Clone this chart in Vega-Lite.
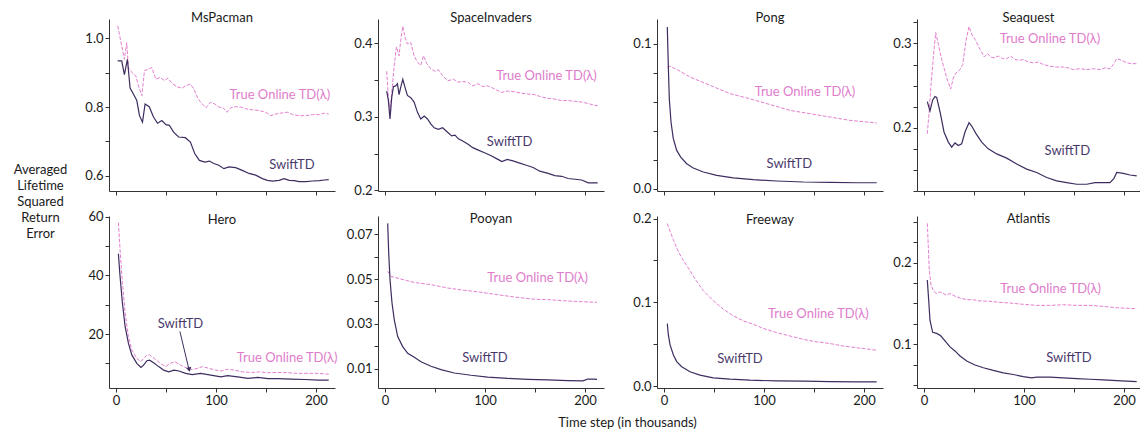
{
  "$schema": "https://vega.github.io/schema/vega-lite/v6.json",
  "background": "white",
  "padding": {"left": 13, "top": 12, "right": 0, "bottom": 0},
  "config": {
    "view": {"stroke": null},
    "font": "Lato",
    "axis": {"grid": false, "domainColor": "#333333", "tickColor": "#333333", "labelColor": "#1a1a1a", "labelFontSize": 13, "tickSize": 4, "labelPadding": 2, "domainWidth": 1, "tickWidth": 1},
    "title": {"fontSize": 13, "fontWeight": "normal", "color": "#1a1a1a"}
  },
  "datasets": {
    "curves": [
      {"game":"MsPacman","method":"SwiftTD","t":1.7,"v":0.934},{"game":"MsPacman","method":"SwiftTD","t":5.7,"v":0.934},{"game":"MsPacman","method":"SwiftTD","t":8.4,"v":0.894},{"game":"MsPacman","method":"SwiftTD","t":11.4,"v":0.939},{"game":"MsPacman","method":"SwiftTD","t":14.1,"v":0.855},{"game":"MsPacman","method":"SwiftTD","t":17.4,"v":0.838},{"game":"MsPacman","method":"SwiftTD","t":20.8,"v":0.819},{"game":"MsPacman","method":"SwiftTD","t":23.5,"v":0.775},{"game":"MsPacman","method":"SwiftTD","t":26.5,"v":0.756},{"game":"MsPacman","method":"SwiftTD","t":29.1,"v":0.809},{"game":"MsPacman","method":"SwiftTD","t":33.2,"v":0.801},{"game":"MsPacman","method":"SwiftTD","t":37.5,"v":0.771},{"game":"MsPacman","method":"SwiftTD","t":41.5,"v":0.753},{"game":"MsPacman","method":"SwiftTD","t":45.9,"v":0.761},{"game":"MsPacman","method":"SwiftTD","t":49.9,"v":0.749},{"game":"MsPacman","method":"SwiftTD","t":53.3,"v":0.747},{"game":"MsPacman","method":"SwiftTD","t":57.6,"v":0.727},{"game":"MsPacman","method":"SwiftTD","t":62.6,"v":0.713},{"game":"MsPacman","method":"SwiftTD","t":69.3,"v":0.711},{"game":"MsPacman","method":"SwiftTD","t":74.4,"v":0.698},{"game":"MsPacman","method":"SwiftTD","t":78.7,"v":0.665},{"game":"MsPacman","method":"SwiftTD","t":83.4,"v":0.645},{"game":"MsPacman","method":"SwiftTD","t":88.8,"v":0.64},{"game":"MsPacman","method":"SwiftTD","t":93.5,"v":0.643},{"game":"MsPacman","method":"SwiftTD","t":97.8,"v":0.636},{"game":"MsPacman","method":"SwiftTD","t":102.8,"v":0.631},{"game":"MsPacman","method":"SwiftTD","t":107.9,"v":0.621},{"game":"MsPacman","method":"SwiftTD","t":112.9,"v":0.626},{"game":"MsPacman","method":"SwiftTD","t":119.6,"v":0.624},{"game":"MsPacman","method":"SwiftTD","t":126.3,"v":0.616},{"game":"MsPacman","method":"SwiftTD","t":133,"v":0.607},{"game":"MsPacman","method":"SwiftTD","t":139.7,"v":0.602},{"game":"MsPacman","method":"SwiftTD","t":146.4,"v":0.592},{"game":"MsPacman","method":"SwiftTD","t":151.4,"v":0.587},{"game":"MsPacman","method":"SwiftTD","t":156.4,"v":0.585},{"game":"MsPacman","method":"SwiftTD","t":163.1,"v":0.587},{"game":"MsPacman","method":"SwiftTD","t":168.2,"v":0.592},{"game":"MsPacman","method":"SwiftTD","t":173.2,"v":0.587},{"game":"MsPacman","method":"SwiftTD","t":178.2,"v":0.586},{"game":"MsPacman","method":"SwiftTD","t":183.2,"v":0.583},{"game":"MsPacman","method":"SwiftTD","t":190,"v":0.583},{"game":"MsPacman","method":"SwiftTD","t":196.6,"v":0.585},{"game":"MsPacman","method":"SwiftTD","t":203.4,"v":0.586},{"game":"MsPacman","method":"SwiftTD","t":208.4,"v":0.588},{"game":"MsPacman","method":"SwiftTD","t":212.7,"v":0.589},
      {"game":"MsPacman","method":"True Online TD(λ)","t":1.7,"v":1.036},{"game":"MsPacman","method":"True Online TD(λ)","t":5.7,"v":0.978},{"game":"MsPacman","method":"True Online TD(λ)","t":8.4,"v":0.939},{"game":"MsPacman","method":"True Online TD(λ)","t":10.7,"v":0.987},{"game":"MsPacman","method":"True Online TD(λ)","t":12.4,"v":0.915},{"game":"MsPacman","method":"True Online TD(λ)","t":15.7,"v":0.901},{"game":"MsPacman","method":"True Online TD(λ)","t":19.8,"v":0.891},{"game":"MsPacman","method":"True Online TD(λ)","t":22.4,"v":0.862},{"game":"MsPacman","method":"True Online TD(λ)","t":25.8,"v":0.833},{"game":"MsPacman","method":"True Online TD(λ)","t":28.5,"v":0.906},{"game":"MsPacman","method":"True Online TD(λ)","t":32.5,"v":0.91},{"game":"MsPacman","method":"True Online TD(λ)","t":35.8,"v":0.915},{"game":"MsPacman","method":"True Online TD(λ)","t":39.9,"v":0.881},{"game":"MsPacman","method":"True Online TD(λ)","t":44.2,"v":0.886},{"game":"MsPacman","method":"True Online TD(λ)","t":48.2,"v":0.877},{"game":"MsPacman","method":"True Online TD(λ)","t":51.9,"v":0.884},{"game":"MsPacman","method":"True Online TD(λ)","t":56,"v":0.869},{"game":"MsPacman","method":"True Online TD(λ)","t":61,"v":0.859},{"game":"MsPacman","method":"True Online TD(λ)","t":66,"v":0.855},{"game":"MsPacman","method":"True Online TD(λ)","t":70,"v":0.862},{"game":"MsPacman","method":"True Online TD(λ)","t":74.4,"v":0.867},{"game":"MsPacman","method":"True Online TD(λ)","t":77.7,"v":0.853},{"game":"MsPacman","method":"True Online TD(λ)","t":82.1,"v":0.824},{"game":"MsPacman","method":"True Online TD(λ)","t":86.1,"v":0.809},{"game":"MsPacman","method":"True Online TD(λ)","t":90.1,"v":0.798},{"game":"MsPacman","method":"True Online TD(λ)","t":94.5,"v":0.814},{"game":"MsPacman","method":"True Online TD(λ)","t":98.8,"v":0.809},{"game":"MsPacman","method":"True Online TD(λ)","t":102.8,"v":0.8},{"game":"MsPacman","method":"True Online TD(λ)","t":106.9,"v":0.798},{"game":"MsPacman","method":"True Online TD(λ)","t":111.2,"v":0.785},{"game":"MsPacman","method":"True Online TD(λ)","t":114.6,"v":0.798},{"game":"MsPacman","method":"True Online TD(λ)","t":119.6,"v":0.801},{"game":"MsPacman","method":"True Online TD(λ)","t":124.6,"v":0.8},{"game":"MsPacman","method":"True Online TD(λ)","t":129.6,"v":0.795},{"game":"MsPacman","method":"True Online TD(λ)","t":136.3,"v":0.792},{"game":"MsPacman","method":"True Online TD(λ)","t":143,"v":0.79},{"game":"MsPacman","method":"True Online TD(λ)","t":149.7,"v":0.785},{"game":"MsPacman","method":"True Online TD(λ)","t":154.8,"v":0.775},{"game":"MsPacman","method":"True Online TD(λ)","t":159.8,"v":0.78},{"game":"MsPacman","method":"True Online TD(λ)","t":166.5,"v":0.783},{"game":"MsPacman","method":"True Online TD(λ)","t":171.5,"v":0.785},{"game":"MsPacman","method":"True Online TD(λ)","t":176.6,"v":0.778},{"game":"MsPacman","method":"True Online TD(λ)","t":183.2,"v":0.775},{"game":"MsPacman","method":"True Online TD(λ)","t":190,"v":0.775},{"game":"MsPacman","method":"True Online TD(λ)","t":196.6,"v":0.778},{"game":"MsPacman","method":"True Online TD(λ)","t":203.4,"v":0.778},{"game":"MsPacman","method":"True Online TD(λ)","t":208.4,"v":0.782},{"game":"MsPacman","method":"True Online TD(λ)","t":212.7,"v":0.78},

      {"game":"SpaceInvaders","method":"SwiftTD","t":1.7,"v":0.335},{"game":"SpaceInvaders","method":"SwiftTD","t":3.4,"v":0.322},{"game":"SpaceInvaders","method":"SwiftTD","t":5,"v":0.297},{"game":"SpaceInvaders","method":"SwiftTD","t":6.7,"v":0.326},{"game":"SpaceInvaders","method":"SwiftTD","t":8.4,"v":0.341},{"game":"SpaceInvaders","method":"SwiftTD","t":10.7,"v":0.342},{"game":"SpaceInvaders","method":"SwiftTD","t":12.4,"v":0.345},{"game":"SpaceInvaders","method":"SwiftTD","t":14.1,"v":0.33},{"game":"SpaceInvaders","method":"SwiftTD","t":15.7,"v":0.34},{"game":"SpaceInvaders","method":"SwiftTD","t":17.8,"v":0.351},{"game":"SpaceInvaders","method":"SwiftTD","t":19.8,"v":0.341},{"game":"SpaceInvaders","method":"SwiftTD","t":22.4,"v":0.329},{"game":"SpaceInvaders","method":"SwiftTD","t":25.8,"v":0.326},{"game":"SpaceInvaders","method":"SwiftTD","t":29.1,"v":0.32},{"game":"SpaceInvaders","method":"SwiftTD","t":32.5,"v":0.306},{"game":"SpaceInvaders","method":"SwiftTD","t":35.8,"v":0.297},{"game":"SpaceInvaders","method":"SwiftTD","t":39.2,"v":0.301},{"game":"SpaceInvaders","method":"SwiftTD","t":42.5,"v":0.297},{"game":"SpaceInvaders","method":"SwiftTD","t":45.9,"v":0.29},{"game":"SpaceInvaders","method":"SwiftTD","t":49.2,"v":0.285},{"game":"SpaceInvaders","method":"SwiftTD","t":53.3,"v":0.283},{"game":"SpaceInvaders","method":"SwiftTD","t":57.6,"v":0.285},{"game":"SpaceInvaders","method":"SwiftTD","t":62.6,"v":0.279},{"game":"SpaceInvaders","method":"SwiftTD","t":66.7,"v":0.274},{"game":"SpaceInvaders","method":"SwiftTD","t":70,"v":0.275},{"game":"SpaceInvaders","method":"SwiftTD","t":73.4,"v":0.27},{"game":"SpaceInvaders","method":"SwiftTD","t":77.7,"v":0.267},{"game":"SpaceInvaders","method":"SwiftTD","t":82.7,"v":0.263},{"game":"SpaceInvaders","method":"SwiftTD","t":87.8,"v":0.258},{"game":"SpaceInvaders","method":"SwiftTD","t":92.8,"v":0.255},{"game":"SpaceInvaders","method":"SwiftTD","t":99.5,"v":0.251},{"game":"SpaceInvaders","method":"SwiftTD","t":106.2,"v":0.247},{"game":"SpaceInvaders","method":"SwiftTD","t":112.9,"v":0.242},{"game":"SpaceInvaders","method":"SwiftTD","t":116.9,"v":0.239},{"game":"SpaceInvaders","method":"SwiftTD","t":122.3,"v":0.242},{"game":"SpaceInvaders","method":"SwiftTD","t":128,"v":0.24},{"game":"SpaceInvaders","method":"SwiftTD","t":134.7,"v":0.237},{"game":"SpaceInvaders","method":"SwiftTD","t":141.4,"v":0.234},{"game":"SpaceInvaders","method":"SwiftTD","t":148.1,"v":0.231},{"game":"SpaceInvaders","method":"SwiftTD","t":154.8,"v":0.226},{"game":"SpaceInvaders","method":"SwiftTD","t":163.1,"v":0.223},{"game":"SpaceInvaders","method":"SwiftTD","t":169.8,"v":0.22},{"game":"SpaceInvaders","method":"SwiftTD","t":176.6,"v":0.219},{"game":"SpaceInvaders","method":"SwiftTD","t":183.2,"v":0.216},{"game":"SpaceInvaders","method":"SwiftTD","t":190,"v":0.215},{"game":"SpaceInvaders","method":"SwiftTD","t":196.6,"v":0.214},{"game":"SpaceInvaders","method":"SwiftTD","t":203.4,"v":0.21},{"game":"SpaceInvaders","method":"SwiftTD","t":208.4,"v":0.21},{"game":"SpaceInvaders","method":"SwiftTD","t":212.7,"v":0.21},
      {"game":"SpaceInvaders","method":"True Online TD(λ)","t":1.7,"v":0.362},{"game":"SpaceInvaders","method":"True Online TD(λ)","t":3.4,"v":0.326},{"game":"SpaceInvaders","method":"True Online TD(λ)","t":5,"v":0.308},{"game":"SpaceInvaders","method":"True Online TD(λ)","t":7.4,"v":0.342},{"game":"SpaceInvaders","method":"True Online TD(λ)","t":9,"v":0.367},{"game":"SpaceInvaders","method":"True Online TD(λ)","t":11.4,"v":0.395},{"game":"SpaceInvaders","method":"True Online TD(λ)","t":14.1,"v":0.383},{"game":"SpaceInvaders","method":"True Online TD(λ)","t":15.7,"v":0.404},{"game":"SpaceInvaders","method":"True Online TD(λ)","t":17.8,"v":0.423},{"game":"SpaceInvaders","method":"True Online TD(λ)","t":20.1,"v":0.408},{"game":"SpaceInvaders","method":"True Online TD(λ)","t":22.4,"v":0.399},{"game":"SpaceInvaders","method":"True Online TD(λ)","t":25.8,"v":0.401},{"game":"SpaceInvaders","method":"True Online TD(λ)","t":29.1,"v":0.383},{"game":"SpaceInvaders","method":"True Online TD(λ)","t":32.5,"v":0.374},{"game":"SpaceInvaders","method":"True Online TD(λ)","t":35.8,"v":0.37},{"game":"SpaceInvaders","method":"True Online TD(λ)","t":38.5,"v":0.383},{"game":"SpaceInvaders","method":"True Online TD(λ)","t":41.9,"v":0.372},{"game":"SpaceInvaders","method":"True Online TD(λ)","t":45.9,"v":0.365},{"game":"SpaceInvaders","method":"True Online TD(λ)","t":49.9,"v":0.362},{"game":"SpaceInvaders","method":"True Online TD(λ)","t":53.3,"v":0.364},{"game":"SpaceInvaders","method":"True Online TD(λ)","t":57.6,"v":0.356},{"game":"SpaceInvaders","method":"True Online TD(λ)","t":62.6,"v":0.349},{"game":"SpaceInvaders","method":"True Online TD(λ)","t":68.7,"v":0.351},{"game":"SpaceInvaders","method":"True Online TD(λ)","t":72.7,"v":0.347},{"game":"SpaceInvaders","method":"True Online TD(λ)","t":77.7,"v":0.348},{"game":"SpaceInvaders","method":"True Online TD(λ)","t":82.7,"v":0.347},{"game":"SpaceInvaders","method":"True Online TD(λ)","t":87.8,"v":0.342},{"game":"SpaceInvaders","method":"True Online TD(λ)","t":92.8,"v":0.345},{"game":"SpaceInvaders","method":"True Online TD(λ)","t":97.8,"v":0.341},{"game":"SpaceInvaders","method":"True Online TD(λ)","t":102.8,"v":0.342},{"game":"SpaceInvaders","method":"True Online TD(λ)","t":109.5,"v":0.338},{"game":"SpaceInvaders","method":"True Online TD(λ)","t":116.2,"v":0.333},{"game":"SpaceInvaders","method":"True Online TD(λ)","t":122.3,"v":0.335},{"game":"SpaceInvaders","method":"True Online TD(λ)","t":129.6,"v":0.334},{"game":"SpaceInvaders","method":"True Online TD(λ)","t":136.3,"v":0.332},{"game":"SpaceInvaders","method":"True Online TD(λ)","t":143,"v":0.331},{"game":"SpaceInvaders","method":"True Online TD(λ)","t":149.7,"v":0.33},{"game":"SpaceInvaders","method":"True Online TD(λ)","t":156.4,"v":0.327},{"game":"SpaceInvaders","method":"True Online TD(λ)","t":163.1,"v":0.325},{"game":"SpaceInvaders","method":"True Online TD(λ)","t":169.8,"v":0.324},{"game":"SpaceInvaders","method":"True Online TD(λ)","t":176.6,"v":0.322},{"game":"SpaceInvaders","method":"True Online TD(λ)","t":183.2,"v":0.322},{"game":"SpaceInvaders","method":"True Online TD(λ)","t":190,"v":0.321},{"game":"SpaceInvaders","method":"True Online TD(λ)","t":196.6,"v":0.32},{"game":"SpaceInvaders","method":"True Online TD(λ)","t":203.4,"v":0.318},{"game":"SpaceInvaders","method":"True Online TD(λ)","t":208.4,"v":0.316},{"game":"SpaceInvaders","method":"True Online TD(λ)","t":212.7,"v":0.315},

      {"game":"Pong","method":"SwiftTD","t":3.3,"v":0.1115},{"game":"Pong","method":"SwiftTD","t":4.3,"v":0.085},{"game":"Pong","method":"SwiftTD","t":5.3,"v":0.062},{"game":"Pong","method":"SwiftTD","t":7,"v":0.046},{"game":"Pong","method":"SwiftTD","t":9.3,"v":0.0345},{"game":"Pong","method":"SwiftTD","t":12.7,"v":0.0264},{"game":"Pong","method":"SwiftTD","t":16.7,"v":0.0218},{"game":"Pong","method":"SwiftTD","t":22.7,"v":0.0172},{"game":"Pong","method":"SwiftTD","t":29.3,"v":0.0143},{"game":"Pong","method":"SwiftTD","t":39.3,"v":0.0115},{"game":"Pong","method":"SwiftTD","t":52.7,"v":0.0092},{"game":"Pong","method":"SwiftTD","t":69.3,"v":0.0074},{"game":"Pong","method":"SwiftTD","t":89.3,"v":0.0062},{"game":"Pong","method":"SwiftTD","t":112.7,"v":0.0053},{"game":"Pong","method":"SwiftTD","t":139.3,"v":0.0046},{"game":"Pong","method":"SwiftTD","t":166,"v":0.0044},{"game":"Pong","method":"SwiftTD","t":192.7,"v":0.0041},{"game":"Pong","method":"SwiftTD","t":212.7,"v":0.0041},
      {"game":"Pong","method":"True Online TD(λ)","t":3.3,"v":0.0839},{"game":"Pong","method":"True Online TD(λ)","t":6,"v":0.0844},{"game":"Pong","method":"True Online TD(λ)","t":12.7,"v":0.0823},{"game":"Pong","method":"True Online TD(λ)","t":26,"v":0.077},{"game":"Pong","method":"True Online TD(λ)","t":46,"v":0.0713},{"game":"Pong","method":"True Online TD(λ)","t":66,"v":0.0655},{"game":"Pong","method":"True Online TD(λ)","t":86,"v":0.062},{"game":"Pong","method":"True Online TD(λ)","t":106,"v":0.058},{"game":"Pong","method":"True Online TD(λ)","t":126,"v":0.054},{"game":"Pong","method":"True Online TD(λ)","t":146,"v":0.0517},{"game":"Pong","method":"True Online TD(λ)","t":166,"v":0.0494},{"game":"Pong","method":"True Online TD(λ)","t":186,"v":0.0471},{"game":"Pong","method":"True Online TD(λ)","t":212.7,"v":0.0453},

      {"game":"Seaquest","method":"SwiftTD","t":3.3,"v":0.231},{"game":"Seaquest","method":"SwiftTD","t":6,"v":0.22},{"game":"Seaquest","method":"SwiftTD","t":8.7,"v":0.233},{"game":"Seaquest","method":"SwiftTD","t":11,"v":0.237},{"game":"Seaquest","method":"SwiftTD","t":12.7,"v":0.236},{"game":"Seaquest","method":"SwiftTD","t":16,"v":0.219},{"game":"Seaquest","method":"SwiftTD","t":20,"v":0.195},{"game":"Seaquest","method":"SwiftTD","t":24.3,"v":0.183},{"game":"Seaquest","method":"SwiftTD","t":27.7,"v":0.177},{"game":"Seaquest","method":"SwiftTD","t":31,"v":0.182},{"game":"Seaquest","method":"SwiftTD","t":34.3,"v":0.179},{"game":"Seaquest","method":"SwiftTD","t":37.7,"v":0.181},{"game":"Seaquest","method":"SwiftTD","t":41,"v":0.195},{"game":"Seaquest","method":"SwiftTD","t":45,"v":0.206},{"game":"Seaquest","method":"SwiftTD","t":47.7,"v":0.202},{"game":"Seaquest","method":"SwiftTD","t":52,"v":0.193},{"game":"Seaquest","method":"SwiftTD","t":57.7,"v":0.183},{"game":"Seaquest","method":"SwiftTD","t":64.3,"v":0.175},{"game":"Seaquest","method":"SwiftTD","t":72.7,"v":0.169},{"game":"Seaquest","method":"SwiftTD","t":82.7,"v":0.164},{"game":"Seaquest","method":"SwiftTD","t":92.7,"v":0.157},{"game":"Seaquest","method":"SwiftTD","t":102.7,"v":0.151},{"game":"Seaquest","method":"SwiftTD","t":112.7,"v":0.147},{"game":"Seaquest","method":"SwiftTD","t":122.7,"v":0.141},{"game":"Seaquest","method":"SwiftTD","t":132.7,"v":0.137},{"game":"Seaquest","method":"SwiftTD","t":142.7,"v":0.135},{"game":"Seaquest","method":"SwiftTD","t":152.7,"v":0.133},{"game":"Seaquest","method":"SwiftTD","t":162.7,"v":0.133},{"game":"Seaquest","method":"SwiftTD","t":171,"v":0.135},{"game":"Seaquest","method":"SwiftTD","t":179.3,"v":0.135},{"game":"Seaquest","method":"SwiftTD","t":186,"v":0.135},{"game":"Seaquest","method":"SwiftTD","t":190,"v":0.14},{"game":"Seaquest","method":"SwiftTD","t":192.7,"v":0.147},{"game":"Seaquest","method":"SwiftTD","t":199.3,"v":0.146},{"game":"Seaquest","method":"SwiftTD","t":206,"v":0.144},{"game":"Seaquest","method":"SwiftTD","t":212.7,"v":0.143},
      {"game":"Seaquest","method":"True Online TD(λ)","t":3.3,"v":0.193},{"game":"Seaquest","method":"True Online TD(λ)","t":5.3,"v":0.221},{"game":"Seaquest","method":"True Online TD(λ)","t":7,"v":0.251},{"game":"Seaquest","method":"True Online TD(λ)","t":9.3,"v":0.283},{"game":"Seaquest","method":"True Online TD(λ)","t":11.7,"v":0.313},{"game":"Seaquest","method":"True Online TD(λ)","t":14.3,"v":0.299},{"game":"Seaquest","method":"True Online TD(λ)","t":17.7,"v":0.281},{"game":"Seaquest","method":"True Online TD(λ)","t":22.7,"v":0.259},{"game":"Seaquest","method":"True Online TD(λ)","t":26.7,"v":0.246},{"game":"Seaquest","method":"True Online TD(λ)","t":29.3,"v":0.259},{"game":"Seaquest","method":"True Online TD(λ)","t":32,"v":0.265},{"game":"Seaquest","method":"True Online TD(λ)","t":36,"v":0.269},{"game":"Seaquest","method":"True Online TD(λ)","t":38.7,"v":0.275},{"game":"Seaquest","method":"True Online TD(λ)","t":42,"v":0.303},{"game":"Seaquest","method":"True Online TD(λ)","t":45,"v":0.32},{"game":"Seaquest","method":"True Online TD(λ)","t":47.7,"v":0.311},{"game":"Seaquest","method":"True Online TD(λ)","t":52,"v":0.303},{"game":"Seaquest","method":"True Online TD(λ)","t":56,"v":0.293},{"game":"Seaquest","method":"True Online TD(λ)","t":60.3,"v":0.284},{"game":"Seaquest","method":"True Online TD(λ)","t":63.3,"v":0.288},{"game":"Seaquest","method":"True Online TD(λ)","t":66.7,"v":0.284},{"game":"Seaquest","method":"True Online TD(λ)","t":70,"v":0.283},{"game":"Seaquest","method":"True Online TD(λ)","t":74.3,"v":0.285},{"game":"Seaquest","method":"True Online TD(λ)","t":78.7,"v":0.282},{"game":"Seaquest","method":"True Online TD(λ)","t":82.7,"v":0.282},{"game":"Seaquest","method":"True Online TD(λ)","t":86.7,"v":0.285},{"game":"Seaquest","method":"True Online TD(λ)","t":91,"v":0.281},{"game":"Seaquest","method":"True Online TD(λ)","t":95.3,"v":0.28},{"game":"Seaquest","method":"True Online TD(λ)","t":99.3,"v":0.281},{"game":"Seaquest","method":"True Online TD(λ)","t":104.3,"v":0.278},{"game":"Seaquest","method":"True Online TD(λ)","t":109.3,"v":0.277},{"game":"Seaquest","method":"True Online TD(λ)","t":114.3,"v":0.278},{"game":"Seaquest","method":"True Online TD(λ)","t":119.3,"v":0.275},{"game":"Seaquest","method":"True Online TD(λ)","t":126,"v":0.273},{"game":"Seaquest","method":"True Online TD(λ)","t":132.7,"v":0.272},{"game":"Seaquest","method":"True Online TD(λ)","t":139.3,"v":0.272},{"game":"Seaquest","method":"True Online TD(λ)","t":144.3,"v":0.271},{"game":"Seaquest","method":"True Online TD(λ)","t":149.3,"v":0.269},{"game":"Seaquest","method":"True Online TD(λ)","t":156,"v":0.27},{"game":"Seaquest","method":"True Online TD(λ)","t":162.7,"v":0.269},{"game":"Seaquest","method":"True Online TD(λ)","t":169.3,"v":0.27},{"game":"Seaquest","method":"True Online TD(λ)","t":176,"v":0.269},{"game":"Seaquest","method":"True Online TD(λ)","t":181,"v":0.271},{"game":"Seaquest","method":"True Online TD(λ)","t":186,"v":0.27},{"game":"Seaquest","method":"True Online TD(λ)","t":189.3,"v":0.275},{"game":"Seaquest","method":"True Online TD(λ)","t":192.7,"v":0.282},{"game":"Seaquest","method":"True Online TD(λ)","t":197.7,"v":0.28},{"game":"Seaquest","method":"True Online TD(λ)","t":202.7,"v":0.277},{"game":"Seaquest","method":"True Online TD(λ)","t":207.7,"v":0.276},{"game":"Seaquest","method":"True Online TD(λ)","t":212.7,"v":0.276},

      {"game":"Hero","method":"SwiftTD","t":2.4,"v":47.4},{"game":"Hero","method":"SwiftTD","t":4,"v":39.9},{"game":"Hero","method":"SwiftTD","t":6.4,"v":30.7},{"game":"Hero","method":"SwiftTD","t":9.1,"v":22.6},{"game":"Hero","method":"SwiftTD","t":12.4,"v":16.9},{"game":"Hero","method":"SwiftTD","t":15.8,"v":12.9},{"game":"Hero","method":"SwiftTD","t":20.8,"v":10},{"game":"Hero","method":"SwiftTD","t":24.9,"v":8.6},{"game":"Hero","method":"SwiftTD","t":27.6,"v":9.4},{"game":"Hero","method":"SwiftTD","t":30.9,"v":10.9},{"game":"Hero","method":"SwiftTD","t":33.6,"v":11.1},{"game":"Hero","method":"SwiftTD","t":37.6,"v":10.2},{"game":"Hero","method":"SwiftTD","t":42.7,"v":8.9},{"game":"Hero","method":"SwiftTD","t":47.7,"v":7.7},{"game":"Hero","method":"SwiftTD","t":52.8,"v":7.1},{"game":"Hero","method":"SwiftTD","t":57.8,"v":7.7},{"game":"Hero","method":"SwiftTD","t":62.9,"v":7.4},{"game":"Hero","method":"SwiftTD","t":69.6,"v":6.6},{"game":"Hero","method":"SwiftTD","t":76.3,"v":6.2},{"game":"Hero","method":"SwiftTD","t":84.7,"v":6.6},{"game":"Hero","method":"SwiftTD","t":94.8,"v":6},{"game":"Hero","method":"SwiftTD","t":104.9,"v":5.4},{"game":"Hero","method":"SwiftTD","t":111.6,"v":5.8},{"game":"Hero","method":"SwiftTD","t":121.7,"v":5.4},{"game":"Hero","method":"SwiftTD","t":131.8,"v":4.9},{"game":"Hero","method":"SwiftTD","t":141.8,"v":5.2},{"game":"Hero","method":"SwiftTD","t":151.9,"v":4.8},{"game":"Hero","method":"SwiftTD","t":162,"v":4.8},{"game":"Hero","method":"SwiftTD","t":175.5,"v":4.6},{"game":"Hero","method":"SwiftTD","t":188.9,"v":4.5},{"game":"Hero","method":"SwiftTD","t":202.4,"v":4.3},{"game":"Hero","method":"SwiftTD","t":212.7,"v":4.3},
      {"game":"Hero","method":"True Online TD(λ)","t":2.4,"v":58},{"game":"Hero","method":"True Online TD(λ)","t":4,"v":49.1},{"game":"Hero","method":"True Online TD(λ)","t":6.4,"v":37.6},{"game":"Hero","method":"True Online TD(λ)","t":9.1,"v":27.2},{"game":"Hero","method":"True Online TD(λ)","t":12.4,"v":19.2},{"game":"Hero","method":"True Online TD(λ)","t":15.8,"v":14.6},{"game":"Hero","method":"True Online TD(λ)","t":20.8,"v":11.7},{"game":"Hero","method":"True Online TD(λ)","t":24.9,"v":10.6},{"game":"Hero","method":"True Online TD(λ)","t":27.6,"v":11.7},{"game":"Hero","method":"True Online TD(λ)","t":30.9,"v":12.9},{"game":"Hero","method":"True Online TD(λ)","t":33.6,"v":12.9},{"game":"Hero","method":"True Online TD(λ)","t":38.3,"v":11.7},{"game":"Hero","method":"True Online TD(λ)","t":43.7,"v":10.2},{"game":"Hero","method":"True Online TD(λ)","t":49.4,"v":8.9},{"game":"Hero","method":"True Online TD(λ)","t":54.5,"v":10},{"game":"Hero","method":"True Online TD(λ)","t":58.8,"v":10.6},{"game":"Hero","method":"True Online TD(λ)","t":64.5,"v":9.4},{"game":"Hero","method":"True Online TD(λ)","t":71.3,"v":8.3},{"game":"Hero","method":"True Online TD(λ)","t":76.3,"v":7.9},{"game":"Hero","method":"True Online TD(λ)","t":81.3,"v":8.3},{"game":"Hero","method":"True Online TD(λ)","t":86.4,"v":8.9},{"game":"Hero","method":"True Online TD(λ)","t":93.1,"v":8.3},{"game":"Hero","method":"True Online TD(λ)","t":99.8,"v":7.7},{"game":"Hero","method":"True Online TD(λ)","t":104.9,"v":7.4},{"game":"Hero","method":"True Online TD(λ)","t":111.6,"v":8},{"game":"Hero","method":"True Online TD(λ)","t":118.3,"v":7.7},{"game":"Hero","method":"True Online TD(λ)","t":126.7,"v":7.1},{"game":"Hero","method":"True Online TD(λ)","t":135.1,"v":6.9},{"game":"Hero","method":"True Online TD(λ)","t":143.5,"v":7.1},{"game":"Hero","method":"True Online TD(λ)","t":151.9,"v":6.8},{"game":"Hero","method":"True Online TD(λ)","t":162,"v":6.9},{"game":"Hero","method":"True Online TD(λ)","t":172.1,"v":6.8},{"game":"Hero","method":"True Online TD(λ)","t":182.2,"v":6.6},{"game":"Hero","method":"True Online TD(λ)","t":192.3,"v":6.6},{"game":"Hero","method":"True Online TD(λ)","t":202.4,"v":6.6},{"game":"Hero","method":"True Online TD(λ)","t":212.7,"v":6.3},

      {"game":"Pooyan","method":"SwiftTD","t":2.7,"v":0.0749},{"game":"Pooyan","method":"SwiftTD","t":3.7,"v":0.0618},{"game":"Pooyan","method":"SwiftTD","t":5,"v":0.0498},{"game":"Pooyan","method":"SwiftTD","t":7,"v":0.0393},{"game":"Pooyan","method":"SwiftTD","t":9.3,"v":0.0318},{"game":"Pooyan","method":"SwiftTD","t":12.7,"v":0.0243},{"game":"Pooyan","method":"SwiftTD","t":17.7,"v":0.0198},{"game":"Pooyan","method":"SwiftTD","t":22.7,"v":0.0168},{"game":"Pooyan","method":"SwiftTD","t":29.3,"v":0.015},{"game":"Pooyan","method":"SwiftTD","t":36,"v":0.013},{"game":"Pooyan","method":"SwiftTD","t":46,"v":0.011},{"game":"Pooyan","method":"SwiftTD","t":56,"v":0.0095},{"game":"Pooyan","method":"SwiftTD","t":69.3,"v":0.008},{"game":"Pooyan","method":"SwiftTD","t":86,"v":0.007},{"game":"Pooyan","method":"SwiftTD","t":102.7,"v":0.0062},{"game":"Pooyan","method":"SwiftTD","t":122.7,"v":0.0056},{"game":"Pooyan","method":"SwiftTD","t":142.7,"v":0.0052},{"game":"Pooyan","method":"SwiftTD","t":162.7,"v":0.0049},{"game":"Pooyan","method":"SwiftTD","t":182.7,"v":0.0046},{"game":"Pooyan","method":"SwiftTD","t":197.7,"v":0.0045},{"game":"Pooyan","method":"SwiftTD","t":200,"v":0.0048},{"game":"Pooyan","method":"SwiftTD","t":202.7,"v":0.0053},{"game":"Pooyan","method":"SwiftTD","t":207.7,"v":0.0053},{"game":"Pooyan","method":"SwiftTD","t":212,"v":0.0052},
      {"game":"Pooyan","method":"True Online TD(λ)","t":2.7,"v":0.0535},{"game":"Pooyan","method":"True Online TD(λ)","t":6,"v":0.0512},{"game":"Pooyan","method":"True Online TD(λ)","t":16,"v":0.05},{"game":"Pooyan","method":"True Online TD(λ)","t":29.3,"v":0.0485},{"game":"Pooyan","method":"True Online TD(λ)","t":46,"v":0.0475},{"game":"Pooyan","method":"True Online TD(λ)","t":62.7,"v":0.046},{"game":"Pooyan","method":"True Online TD(λ)","t":79.3,"v":0.045},{"game":"Pooyan","method":"True Online TD(λ)","t":96,"v":0.0441},{"game":"Pooyan","method":"True Online TD(λ)","t":112.7,"v":0.043},{"game":"Pooyan","method":"True Online TD(λ)","t":129.3,"v":0.042},{"game":"Pooyan","method":"True Online TD(λ)","t":146,"v":0.0411},{"game":"Pooyan","method":"True Online TD(λ)","t":162.7,"v":0.0408},{"game":"Pooyan","method":"True Online TD(λ)","t":179.3,"v":0.0403},{"game":"Pooyan","method":"True Online TD(λ)","t":196,"v":0.0399},{"game":"Pooyan","method":"True Online TD(λ)","t":212,"v":0.0396},

      {"game":"Freeway","method":"SwiftTD","t":3.3,"v":0.0747},{"game":"Freeway","method":"SwiftTD","t":4.3,"v":0.0618},{"game":"Freeway","method":"SwiftTD","t":6,"v":0.0497},{"game":"Freeway","method":"SwiftTD","t":9.3,"v":0.0376},{"game":"Freeway","method":"SwiftTD","t":12.7,"v":0.0295},{"game":"Freeway","method":"SwiftTD","t":17.7,"v":0.0234},{"game":"Freeway","method":"SwiftTD","t":26,"v":0.0174},{"game":"Freeway","method":"SwiftTD","t":36,"v":0.0133},{"game":"Freeway","method":"SwiftTD","t":49.3,"v":0.0101},{"game":"Freeway","method":"SwiftTD","t":66,"v":0.0085},{"game":"Freeway","method":"SwiftTD","t":86,"v":0.0073},{"game":"Freeway","method":"SwiftTD","t":112.7,"v":0.0065},{"game":"Freeway","method":"SwiftTD","t":139.3,"v":0.0061},{"game":"Freeway","method":"SwiftTD","t":166,"v":0.0057},{"game":"Freeway","method":"SwiftTD","t":192.7,"v":0.0053},{"game":"Freeway","method":"SwiftTD","t":212.7,"v":0.0053},
      {"game":"Freeway","method":"True Online TD(λ)","t":3.3,"v":0.194},{"game":"Freeway","method":"True Online TD(λ)","t":6,"v":0.185},{"game":"Freeway","method":"True Online TD(λ)","t":9.3,"v":0.175},{"game":"Freeway","method":"True Online TD(λ)","t":12.7,"v":0.165},{"game":"Freeway","method":"True Online TD(λ)","t":17.7,"v":0.153},{"game":"Freeway","method":"True Online TD(λ)","t":24.3,"v":0.141},{"game":"Freeway","method":"True Online TD(λ)","t":31,"v":0.128},{"game":"Freeway","method":"True Online TD(λ)","t":39.3,"v":0.114},{"game":"Freeway","method":"True Online TD(λ)","t":49.3,"v":0.102},{"game":"Freeway","method":"True Online TD(λ)","t":59.3,"v":0.092},{"game":"Freeway","method":"True Online TD(λ)","t":69.3,"v":0.084},{"game":"Freeway","method":"True Online TD(λ)","t":79.3,"v":0.078},{"game":"Freeway","method":"True Online TD(λ)","t":89.3,"v":0.074},{"game":"Freeway","method":"True Online TD(λ)","t":99.3,"v":0.069},{"game":"Freeway","method":"True Online TD(λ)","t":112.7,"v":0.064},{"game":"Freeway","method":"True Online TD(λ)","t":126,"v":0.06},{"game":"Freeway","method":"True Online TD(λ)","t":139.3,"v":0.056},{"game":"Freeway","method":"True Online TD(λ)","t":152.7,"v":0.053},{"game":"Freeway","method":"True Online TD(λ)","t":166,"v":0.051},{"game":"Freeway","method":"True Online TD(λ)","t":179.3,"v":0.048},{"game":"Freeway","method":"True Online TD(λ)","t":192.7,"v":0.046},{"game":"Freeway","method":"True Online TD(λ)","t":212.7,"v":0.043},

      {"game":"Atlantis","method":"SwiftTD","t":3.3,"v":0.1785},{"game":"Atlantis","method":"SwiftTD","t":4.7,"v":0.1537},{"game":"Atlantis","method":"SwiftTD","t":6,"v":0.129},{"game":"Atlantis","method":"SwiftTD","t":8.7,"v":0.1145},{"game":"Atlantis","method":"SwiftTD","t":12.7,"v":0.1132},{"game":"Atlantis","method":"SwiftTD","t":16.7,"v":0.1103},{"game":"Atlantis","method":"SwiftTD","t":21,"v":0.1041},{"game":"Atlantis","method":"SwiftTD","t":26,"v":0.0967},{"game":"Atlantis","method":"SwiftTD","t":31,"v":0.0917},{"game":"Atlantis","method":"SwiftTD","t":36,"v":0.0855},{"game":"Atlantis","method":"SwiftTD","t":42.7,"v":0.0793},{"game":"Atlantis","method":"SwiftTD","t":51,"v":0.0744},{"game":"Atlantis","method":"SwiftTD","t":59.3,"v":0.0711},{"game":"Atlantis","method":"SwiftTD","t":69.3,"v":0.0678},{"game":"Atlantis","method":"SwiftTD","t":79.3,"v":0.0649},{"game":"Atlantis","method":"SwiftTD","t":89.3,"v":0.0628},{"game":"Atlantis","method":"SwiftTD","t":99.3,"v":0.0603},{"game":"Atlantis","method":"SwiftTD","t":107.7,"v":0.0587},{"game":"Atlantis","method":"SwiftTD","t":112.7,"v":0.0595},{"game":"Atlantis","method":"SwiftTD","t":126,"v":0.0595},{"game":"Atlantis","method":"SwiftTD","t":139.3,"v":0.0587},{"game":"Atlantis","method":"SwiftTD","t":152.7,"v":0.0579},{"game":"Atlantis","method":"SwiftTD","t":166,"v":0.057},{"game":"Atlantis","method":"SwiftTD","t":179.3,"v":0.0562},{"game":"Atlantis","method":"SwiftTD","t":192.7,"v":0.0554},{"game":"Atlantis","method":"SwiftTD","t":212.7,"v":0.0541},
      {"game":"Atlantis","method":"True Online TD(λ)","t":3.3,"v":0.248},{"game":"Atlantis","method":"True Online TD(λ)","t":4.3,"v":0.2198},{"game":"Atlantis","method":"True Online TD(λ)","t":5.3,"v":0.1909},{"game":"Atlantis","method":"True Online TD(λ)","t":7,"v":0.1723},{"game":"Atlantis","method":"True Online TD(λ)","t":9.3,"v":0.1661},{"game":"Atlantis","method":"True Online TD(λ)","t":12,"v":0.162},{"game":"Atlantis","method":"True Online TD(λ)","t":15.3,"v":0.164},{"game":"Atlantis","method":"True Online TD(λ)","t":18.7,"v":0.1628},{"game":"Atlantis","method":"True Online TD(λ)","t":22,"v":0.1599},{"game":"Atlantis","method":"True Online TD(λ)","t":26,"v":0.162},{"game":"Atlantis","method":"True Online TD(λ)","t":31,"v":0.1587},{"game":"Atlantis","method":"True Online TD(λ)","t":36,"v":0.1566},{"game":"Atlantis","method":"True Online TD(λ)","t":42.7,"v":0.1545},{"game":"Atlantis","method":"True Online TD(λ)","t":49.3,"v":0.1545},{"game":"Atlantis","method":"True Online TD(λ)","t":56,"v":0.1529},{"game":"Atlantis","method":"True Online TD(λ)","t":66,"v":0.1525},{"game":"Atlantis","method":"True Online TD(λ)","t":76,"v":0.1512},{"game":"Atlantis","method":"True Online TD(λ)","t":86,"v":0.1504},{"game":"Atlantis","method":"True Online TD(λ)","t":99.3,"v":0.1488},{"game":"Atlantis","method":"True Online TD(λ)","t":112.7,"v":0.1475},{"game":"Atlantis","method":"True Online TD(λ)","t":126,"v":0.1475},{"game":"Atlantis","method":"True Online TD(λ)","t":139.3,"v":0.1483},{"game":"Atlantis","method":"True Online TD(λ)","t":152.7,"v":0.1475},{"game":"Atlantis","method":"True Online TD(λ)","t":166,"v":0.1475},{"game":"Atlantis","method":"True Online TD(λ)","t":179.3,"v":0.1463},{"game":"Atlantis","method":"True Online TD(λ)","t":192.7,"v":0.1446},{"game":"Atlantis","method":"True Online TD(λ)","t":212.7,"v":0.1434}
    ],
    "labels": [
      {"game":"MsPacman","method":"True Online TD(λ)","t":163.8,"v":0.835,"label":"True Online TD(λ)"},
      {"game":"MsPacman","method":"SwiftTD","t":175.9,"v":0.631,"label":"SwiftTD"},
      {"game":"SpaceInvaders","method":"True Online TD(λ)","t":161.5,"v":0.356,"label":"True Online TD(λ)"},
      {"game":"SpaceInvaders","method":"SwiftTD","t":124.6,"v":0.265,"label":"SwiftTD"},
      {"game":"Pong","method":"True Online TD(λ)","t":141,"v":0.0667,"label":"True Online TD(λ)"},
      {"game":"Pong","method":"SwiftTD","t":125.3,"v":0.0168,"label":"SwiftTD"},
      {"game":"Seaquest","method":"True Online TD(λ)","t":126,"v":0.305,"label":"True Online TD(λ)"},
      {"game":"Seaquest","method":"SwiftTD","t":143.3,"v":0.173,"label":"SwiftTD"},
      {"game":"Hero","method":"True Online TD(λ)","t":171.1,"v":11.7,"label":"True Online TD(λ)"},
      {"game":"Hero","method":"SwiftTD","t":64.5,"v":23.6,"label":"SwiftTD"},
      {"game":"Pooyan","method":"True Online TD(λ)","t":152.7,"v":0.0505,"label":"True Online TD(λ)"},
      {"game":"Pooyan","method":"SwiftTD","t":100,"v":0.0145,"label":"SwiftTD"},
      {"game":"Freeway","method":"True Online TD(λ)","t":154.3,"v":0.086,"label":"True Online TD(λ)"},
      {"game":"Freeway","method":"SwiftTD","t":76,"v":0.0327,"label":"SwiftTD"},
      {"game":"Atlantis","method":"True Online TD(λ)","t":126.7,"v":0.167,"label":"True Online TD(λ)"},
      {"game":"Atlantis","method":"SwiftTD","t":145,"v":0.0835,"label":"SwiftTD"}
    ],
    "arrow": [
      {"game":"Hero","t":63.9,"v":20.9,"t2":73.2,"v2":7.6}
    ],
    "arrowhead": [
      {"game":"Hero","t":73.2,"v":7.9}
    ]
  },
  "title": {"text": ["Averaged", "Lifetime", "Squared", "Return", "Error"], "orient": "left", "angle": 0, "align": "center", "baseline": "middle", "anchor": "middle", "offset": -15, "dy": -51, "fontSize": 13, "lineHeight": 16, "fontWeight": "normal", "color": "#1a1a1a"},
  "vconcat": [
    {
      "title": {"text": "Time step (in thousands)", "orient": "bottom", "anchor": "middle", "offset": 10, "dx": 18, "fontSize": 13, "fontWeight": "normal", "color": "#1a1a1a"},
      "columns": 4,
      "align": "each",
      "spacing": {"row": 12, "column": 0},
      "concat": [
        {
          "width": 226, "height": 172,
          "title": {"text": "MsPacman", "offset": -6},
          "encoding": {
            "x": {"field": "t", "type": "quantitative", "scale": {"domain": [-7, 219], "nice": false, "zero": false}, "axis": {"values": [0, 50, 100, 150, 200], "labels": false, "title": null}},
            "y": {"field": "v", "type": "quantitative", "scale": {"domain": [0.556, 1.056], "nice": false, "zero": false}, "axis": {"values": [0.6, 0.7, 0.8, 0.9, 1.0], "labelExpr": "indexof([6, 8, 10], round(datum.value * 10)) >= 0 ? format(datum.value, '.1f') : ''", "title": null, "minExtent": 30}}
          },
          "layer": [
            {"data": {"name": "curves"}, "transform": [{"filter": "datum.game === 'MsPacman' && datum.method !== 'SwiftTD'"}], "mark": {"type": "line", "color": "#e37fcf", "strokeWidth": 1, "strokeDash": [3.7, 1.6]}},
            {"data": {"name": "curves"}, "transform": [{"filter": "datum.game === 'MsPacman' && datum.method === 'SwiftTD'"}], "mark": {"type": "line", "color": "#3e2d60", "strokeWidth": 1.2}},
            {"data": {"name": "labels"}, "transform": [{"filter": "datum.game === 'MsPacman'"}], "mark": {"type": "text", "fontSize": 13, "align": "center", "baseline": "middle"}, "encoding": {"text": {"field": "label"}, "color": {"field": "method", "type": "nominal", "scale": {"domain": ["SwiftTD", "True Online TD(λ)"], "range": ["#4a3a6c", "#e07ccc"]}, "legend": null}}}
          ]
        },
        {
          "width": 226, "height": 172,
          "title": {"text": "SpaceInvaders", "offset": -6},
          "encoding": {
            "x": {"field": "t", "type": "quantitative", "scale": {"domain": [-7, 219], "nice": false, "zero": false}, "axis": {"values": [0, 50, 100, 150, 200], "labels": false, "title": null}},
            "y": {"field": "v", "type": "quantitative", "scale": {"domain": [0.199, 0.433], "nice": false, "zero": false}, "axis": {"values": [0.2, 0.25, 0.3, 0.35, 0.4], "labelExpr": "indexof([20, 30, 40], round(datum.value * 100)) >= 0 ? format(datum.value, '.1f') : ''", "title": null, "minExtent": 40}}
          },
          "layer": [
            {"data": {"name": "curves"}, "transform": [{"filter": "datum.game === 'SpaceInvaders' && datum.method !== 'SwiftTD'"}], "mark": {"type": "line", "color": "#e37fcf", "strokeWidth": 1, "strokeDash": [3.7, 1.6]}},
            {"data": {"name": "curves"}, "transform": [{"filter": "datum.game === 'SpaceInvaders' && datum.method === 'SwiftTD'"}], "mark": {"type": "line", "color": "#3e2d60", "strokeWidth": 1.2}},
            {"data": {"name": "labels"}, "transform": [{"filter": "datum.game === 'SpaceInvaders'"}], "mark": {"type": "text", "fontSize": 13, "align": "center", "baseline": "middle"}, "encoding": {"text": {"field": "label"}, "color": {"field": "method", "type": "nominal", "scale": {"domain": ["SwiftTD", "True Online TD(λ)"], "range": ["#4a3a6c", "#e07ccc"]}, "legend": null}}}
          ]
        },
        {
          "width": 226, "height": 172,
          "title": {"text": "Pong", "offset": -6},
          "encoding": {
            "x": {"field": "t", "type": "quantitative", "scale": {"domain": [-7, 219], "nice": false, "zero": false}, "axis": {"values": [0, 50, 100, 150, 200], "labels": false, "title": null}},
            "y": {"field": "v", "type": "quantitative", "scale": {"domain": [-0.0016, 0.117], "nice": false, "zero": false}, "axis": {"values": [0, 0.02, 0.04, 0.06, 0.08, 0.1], "labelExpr": "indexof([0, 10], round(datum.value * 100)) >= 0 ? format(datum.value, '.1f') : ''", "title": null, "minExtent": 53}}
          },
          "layer": [
            {"data": {"name": "curves"}, "transform": [{"filter": "datum.game === 'Pong' && datum.method !== 'SwiftTD'"}], "mark": {"type": "line", "color": "#e37fcf", "strokeWidth": 1, "strokeDash": [3.7, 1.6]}},
            {"data": {"name": "curves"}, "transform": [{"filter": "datum.game === 'Pong' && datum.method === 'SwiftTD'"}], "mark": {"type": "line", "color": "#3e2d60", "strokeWidth": 1.2}},
            {"data": {"name": "labels"}, "transform": [{"filter": "datum.game === 'Pong'"}], "mark": {"type": "text", "fontSize": 13, "align": "center", "baseline": "middle"}, "encoding": {"text": {"field": "label"}, "color": {"field": "method", "type": "nominal", "scale": {"domain": ["SwiftTD", "True Online TD(λ)"], "range": ["#4a3a6c", "#e07ccc"]}, "legend": null}}}
          ]
        },
        {
          "width": 223, "height": 172,
          "title": {"text": "Seaquest", "offset": -6},
          "encoding": {
            "x": {"field": "t", "type": "quantitative", "scale": {"domain": [-7, 216], "nice": false, "zero": false}, "axis": {"values": [0, 50, 100, 150, 200], "labels": false, "title": null}},
            "y": {"field": "v", "type": "quantitative", "scale": {"domain": [0.125, 0.329], "nice": false, "zero": false}, "axis": {"values": [0.125, 0.15, 0.175, 0.2, 0.225, 0.25, 0.275, 0.3, 0.325], "labelExpr": "indexof([200, 300], round(datum.value * 1000)) >= 0 ? format(datum.value, '.1f') : ''", "title": null, "minExtent": 34}}
          },
          "layer": [
            {"data": {"name": "curves"}, "transform": [{"filter": "datum.game === 'Seaquest' && datum.method !== 'SwiftTD'"}], "mark": {"type": "line", "color": "#e37fcf", "strokeWidth": 1, "strokeDash": [3.7, 1.6]}},
            {"data": {"name": "curves"}, "transform": [{"filter": "datum.game === 'Seaquest' && datum.method === 'SwiftTD'"}], "mark": {"type": "line", "color": "#3e2d60", "strokeWidth": 1.2}},
            {"data": {"name": "labels"}, "transform": [{"filter": "datum.game === 'Seaquest'"}], "mark": {"type": "text", "fontSize": 13, "align": "center", "baseline": "middle"}, "encoding": {"text": {"field": "label"}, "color": {"field": "method", "type": "nominal", "scale": {"domain": ["SwiftTD", "True Online TD(λ)"], "range": ["#4a3a6c", "#e07ccc"]}, "legend": null}}}
          ]
        },
        {
          "width": 226, "height": 172,
          "title": {"text": "Hero", "offset": -16},
          "encoding": {
            "x": {"field": "t", "type": "quantitative", "scale": {"domain": [-7, 219], "nice": false, "zero": false}, "axis": {"values": [0, 50, 100, 150, 200], "labelExpr": "datum.value % 100 === 0 ? datum.label : ''", "title": null}},
            "y": {"field": "v", "type": "quantitative", "scale": {"domain": [1.6, 60.3], "nice": false, "zero": false}, "axis": {"values": [10, 20, 30, 40, 50, 60], "labelExpr": "indexof([20, 40, 60], round(datum.value)) >= 0 ? format(datum.value, 'd') : ''", "title": null, "minExtent": 30}}
          },
          "layer": [
            {"data": {"name": "curves"}, "transform": [{"filter": "datum.game === 'Hero' && datum.method !== 'SwiftTD'"}], "mark": {"type": "line", "color": "#e37fcf", "strokeWidth": 1, "strokeDash": [3.7, 1.6]}},
            {"data": {"name": "curves"}, "transform": [{"filter": "datum.game === 'Hero' && datum.method === 'SwiftTD'"}], "mark": {"type": "line", "color": "#3e2d60", "strokeWidth": 1.2}},
            {"data": {"name": "arrow"}, "mark": {"type": "rule", "color": "#3e2d60", "strokeWidth": 1}, "encoding": {"x2": {"field": "t2"}, "y2": {"field": "v2"}}},
            {"data": {"name": "arrowhead"}, "mark": {"type": "point", "shape": "triangle-down", "filled": true, "color": "#3e2d60", "size": 28, "angle": 347, "opacity": 1}},
            {"data": {"name": "labels"}, "transform": [{"filter": "datum.game === 'Hero'"}], "mark": {"type": "text", "fontSize": 13, "align": "center", "baseline": "middle"}, "encoding": {"text": {"field": "label"}, "color": {"field": "method", "type": "nominal", "scale": {"domain": ["SwiftTD", "True Online TD(λ)"], "range": ["#4a3a6c", "#e07ccc"]}, "legend": null}}}
          ]
        },
        {
          "width": 226, "height": 172,
          "title": {"text": "Pooyan", "offset": -10},
          "encoding": {
            "x": {"field": "t", "type": "quantitative", "scale": {"domain": [-7, 219], "nice": false, "zero": false}, "axis": {"values": [0, 50, 100, 150, 200], "labelExpr": "datum.value % 100 === 0 ? datum.label : ''", "title": null}},
            "y": {"field": "v", "type": "quantitative", "scale": {"domain": [0.0013, 0.0782], "nice": false, "zero": false}, "axis": {"values": [0.01, 0.02, 0.03, 0.04, 0.05, 0.06, 0.07], "labelExpr": "indexof([1, 3, 5, 7], round(datum.value * 100)) >= 0 ? format(datum.value, '.2f') : ''", "title": null, "minExtent": 40}}
          },
          "layer": [
            {"data": {"name": "curves"}, "transform": [{"filter": "datum.game === 'Pooyan' && datum.method !== 'SwiftTD'"}], "mark": {"type": "line", "color": "#e37fcf", "strokeWidth": 1, "strokeDash": [3.7, 1.6]}},
            {"data": {"name": "curves"}, "transform": [{"filter": "datum.game === 'Pooyan' && datum.method === 'SwiftTD'"}], "mark": {"type": "line", "color": "#3e2d60", "strokeWidth": 1.2}},
            {"data": {"name": "labels"}, "transform": [{"filter": "datum.game === 'Pooyan'"}], "mark": {"type": "text", "fontSize": 13, "align": "center", "baseline": "middle"}, "encoding": {"text": {"field": "label"}, "color": {"field": "method", "type": "nominal", "scale": {"domain": ["SwiftTD", "True Online TD(λ)"], "range": ["#4a3a6c", "#e07ccc"]}, "legend": null}}}
          ]
        },
        {
          "width": 226, "height": 172,
          "title": {"text": "Freeway", "offset": -14},
          "encoding": {
            "x": {"field": "t", "type": "quantitative", "scale": {"domain": [-7, 219], "nice": false, "zero": false}, "axis": {"values": [0, 50, 100, 150, 200], "labelExpr": "datum.value % 100 === 0 ? datum.label : ''", "title": null}},
            "y": {"field": "v", "type": "quantitative", "scale": {"domain": [-0.002, 0.203], "nice": false, "zero": false}, "axis": {"values": [0, 0.05, 0.1, 0.15, 0.2], "labelExpr": "indexof([0, 10, 20], round(datum.value * 100)) >= 0 ? format(datum.value, '.1f') : ''", "title": null, "minExtent": 53}}
          },
          "layer": [
            {"data": {"name": "curves"}, "transform": [{"filter": "datum.game === 'Freeway' && datum.method !== 'SwiftTD'"}], "mark": {"type": "line", "color": "#e37fcf", "strokeWidth": 1, "strokeDash": [3.7, 1.6]}},
            {"data": {"name": "curves"}, "transform": [{"filter": "datum.game === 'Freeway' && datum.method === 'SwiftTD'"}], "mark": {"type": "line", "color": "#3e2d60", "strokeWidth": 1.2}},
            {"data": {"name": "labels"}, "transform": [{"filter": "datum.game === 'Freeway'"}], "mark": {"type": "text", "fontSize": 13, "align": "center", "baseline": "middle"}, "encoding": {"text": {"field": "label"}, "color": {"field": "method", "type": "nominal", "scale": {"domain": ["SwiftTD", "True Online TD(λ)"], "range": ["#4a3a6c", "#e07ccc"]}, "legend": null}}}
          ]
        },
        {
          "width": 223, "height": 172,
          "title": {"text": "Atlantis", "offset": -10},
          "encoding": {
            "x": {"field": "t", "type": "quantitative", "scale": {"domain": [-7, 216], "nice": false, "zero": false}, "axis": {"values": [0, 50, 100, 150, 200], "labelExpr": "datum.value % 100 === 0 ? datum.label : ''", "title": null}},
            "y": {"field": "v", "type": "quantitative", "scale": {"domain": [0.0463, 0.257], "nice": false, "zero": false}, "axis": {"values": [0.05, 0.075, 0.1, 0.125, 0.15, 0.175, 0.2, 0.225, 0.25], "labelExpr": "indexof([100, 200], round(datum.value * 1000)) >= 0 ? format(datum.value, '.1f') : ''", "title": null, "minExtent": 34}}
          },
          "layer": [
            {"data": {"name": "curves"}, "transform": [{"filter": "datum.game === 'Atlantis' && datum.method !== 'SwiftTD'"}], "mark": {"type": "line", "color": "#e37fcf", "strokeWidth": 1, "strokeDash": [3.7, 1.6]}},
            {"data": {"name": "curves"}, "transform": [{"filter": "datum.game === 'Atlantis' && datum.method === 'SwiftTD'"}], "mark": {"type": "line", "color": "#3e2d60", "strokeWidth": 1.2}},
            {"data": {"name": "labels"}, "transform": [{"filter": "datum.game === 'Atlantis'"}], "mark": {"type": "text", "fontSize": 13, "align": "center", "baseline": "middle"}, "encoding": {"text": {"field": "label"}, "color": {"field": "method", "type": "nominal", "scale": {"domain": ["SwiftTD", "True Online TD(λ)"], "range": ["#4a3a6c", "#e07ccc"]}, "legend": null}}}
          ]
        }
      ]
    }
  ]
}
